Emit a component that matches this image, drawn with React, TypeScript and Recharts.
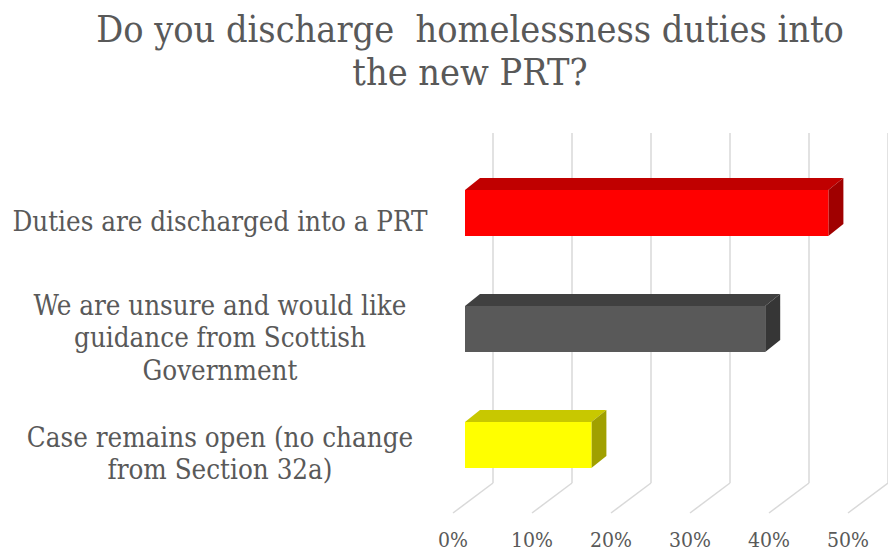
import React from "react";
import { Bar, BarChart, CartesianGrid, Cell, XAxis, YAxis } from "recharts";

const categories = [
  "Duties are discharged into a PRT",
  "We are unsure and would like\nguidance from Scottish\nGovernment",
  "Case remains open (no change\nfrom Section 32a)",
];
const shares = [0.46, 0.38, 0.16];
const xTicks = [0, 0.1, 0.2, 0.3, 0.4, 0.5];

// front / top / side colours of each box
const FRONT = ["#FF0000", "#595959", "#FFFF00"];
const TOP = ["#C00000", "#404040", "#C8C800"];
const SIDE = ["#A00000", "#363636", "#A0A000"];

const FONT = "'DejaVu Serif Condensed', 'DejaVu Serif', serif";
const TEXT = "#595959";

// offset of the front plane from the back wall, and bar depth
const FRONT_DX = -28;
const FRONT_DY = 21;
const DEPTH_X = 15;
const DEPTH_Y = 12;

const data = categories.map((name, i) => ({ name, value: shares[i] }));

function Box(props: any) {
  const { x, y, width, height, index } = props;
  const fx = x + FRONT_DX;
  const fy = y + FRONT_DY;
  const w = width;
  const h = height;
  return (
    <g>
      <polygon
        points={`${fx},${fy} ${fx + DEPTH_X},${fy - DEPTH_Y} ${fx + w + DEPTH_X},${fy - DEPTH_Y} ${fx + w},${fy}`}
        fill={TOP[index]}
      />
      <polygon
        points={`${fx + w},${fy} ${fx + w + DEPTH_X},${fy - DEPTH_Y} ${fx + w + DEPTH_X},${fy + h - DEPTH_Y} ${fx + w},${fy + h}`}
        fill={SIDE[index]}
      />
      <rect x={fx} y={fy} width={w} height={h} fill={FRONT[index]} />
    </g>
  );
}

function FloorTick(props: any) {
  const { x, y, payload } = props;
  return (
    <g>
      <line x1={x} y1={y} x2={x - 40} y2={y + 30} stroke="#d9d9d9" strokeWidth={1.5} />
      <text
        x={x - 40}
        y={y + 58}
        textAnchor="middle"
        dominantBaseline="middle"
        fill={TEXT}
        fontSize={21}
        fontFamily={FONT}
      >
        {`${Math.round(payload.value * 100)}%`}
      </text>
    </g>
  );
}

function CategoryTick(props: any) {
  const { y, payload } = props;
  const lines = String(payload.value).split("\n");
  const lh = 32.5;
  const top = y + 31 - ((lines.length - 1) * lh) / 2;
  return (
    <text
      textAnchor="middle"
      dominantBaseline="middle"
      fill={TEXT}
      fontSize={27.5}
      fontFamily={FONT}
    >
      {lines.map((l, i) => (
        <tspan key={i} x={220} y={top + i * lh}>
          {l}
        </tspan>
      ))}
    </text>
  );
}

export default function App() {
  return (
    <div
      style={{
        position: "absolute",
        left: 0,
        top: 0,
        width: 888,
        height: 551,
        background: "#fff",
      }}
    >
      <div
        style={{
          position: "absolute",
          left: 0,
          top: 8,
          width: 940,
          textAlign: "center",
          color: TEXT,
          fontFamily: FONT,
          fontSize: 37.5,
          lineHeight: "43px",
        }}
      >
        Do you discharge&nbsp; homelessness duties into
        <br />
        the new PRT?
      </div>
      <div style={{ position: "absolute", left: 0, top: 0 }}>
        <BarChart
          width={888}
          height={551}
          data={data}
          layout="vertical"
          margin={{ top: 133, right: 0, bottom: 0, left: 0 }}
        >
          <CartesianGrid horizontal={false} stroke="#d9d9d9" strokeWidth={1.5} />
          <XAxis
            type="number"
            domain={[0, 0.5]}
            ticks={xTicks}
            height={68}
            axisLine={false}
            tickLine={false}
            tickSize={0}
            tickMargin={0}
            tick={<FloorTick />}
            interval={0}
          />
          <YAxis
            type="category"
            dataKey="name"
            width={493}
            axisLine={false}
            tickLine={false}
            padding={{ top: 1, bottom: 1 }}
            tick={<CategoryTick />}
            interval={0}
          />
          <Bar dataKey="value" barSize={46} shape={<Box />} isAnimationActive={false}>
            {data.map((d, i) => (
              <Cell key={d.name} fill={FRONT[i]} />
            ))}
          </Bar>
        </BarChart>
      </div>
    </div>
  );
}
